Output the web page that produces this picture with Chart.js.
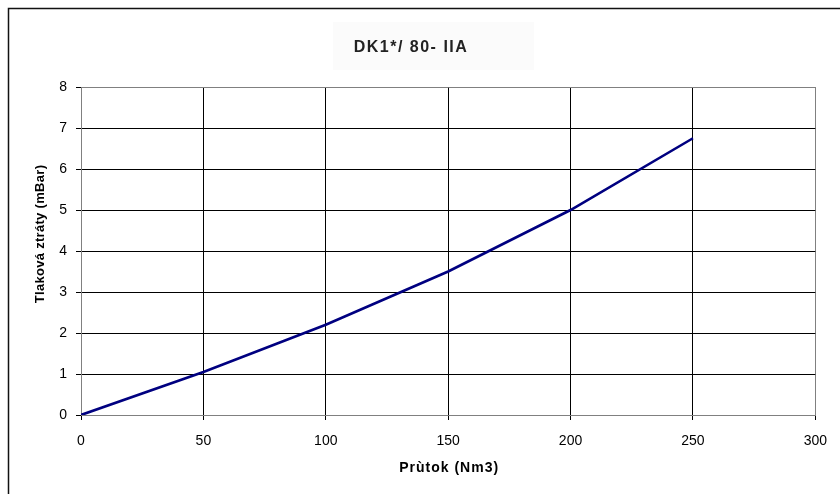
<!DOCTYPE html>
<html>
<head>
<meta charset="utf-8">
<script src="https://cdn.jsdelivr.net/npm/chart.js@4/dist/chart.umd.min.js"></script>
<style>
  html, body { margin: 0; padding: 0; background: #fff; overflow: hidden; }
  #wrap { width: 840px; height: 494px; position: relative; }
</style>
</head>
<body>
<div id="wrap"><canvas id="chartDk" width="840" height="494"></canvas></div>
<script>
// --- data ---
const flowValues = [0, 50, 100, 150, 200, 250];          // Průtok (Nm3)
const lossValues = [0, 1.05, 2.2, 3.5, 5.0, 6.75];       // Tlaková ztráty (mBar)
const xTicks = [0, 50, 100, 150, 200, 250, 300];
const yTicks = [0, 1, 2, 3, 4, 5, 6, 7, 8];

const chartTitle = 'DK1*/ 80- IIA';
const xTitle = 'Prùtok (Nm3)';
const yTitle = 'Tlaková ztráty (mBar)';

const FONT = '"Liberation Sans", Arial, sans-serif';

// frame, chart title and axis titles drawn on canvas (Excel style)
const excelFrame = {
    id: 'excelFrame',
    beforeDraw(chart) {
        const c = chart.ctx;
        c.save();
        c.fillStyle = '#fbfbfb';
        c.fillRect(333, 22, 201, 48);
        c.restore();
    },
    afterDraw(chart) {
        const c = chart.ctx;
        const area = chart.chartArea;
        c.save();
        c.strokeStyle = '#111';
        c.lineWidth = 1.5;
        c.beginPath();
        c.moveTo(8.5, 494);
        c.lineTo(8.5, 8.5);
        c.lineTo(840, 8.5);
        c.stroke();

        c.fillStyle = '#222';
        c.textAlign = 'center';
        c.textBaseline = 'middle';
        c.letterSpacing = '1.5px';
        c.font = 'bold 16px ' + FONT;
        c.fillText(chartTitle, 411, 48);

        c.fillStyle = '#000';
        c.font = 'bold 14px ' + FONT;
        c.letterSpacing = '1px';
        c.fillText(xTitle, (area.left + area.right) / 2 + 1, 468);

        c.translate(40, 234);
        c.rotate(-Math.PI / 2);
        c.font = 'bold 13px ' + FONT;
        c.letterSpacing = '0.3px';
        c.fillText(yTitle, 0, 0);
        c.restore();
    }
};

const points = flowValues.map((x, i) => ({ x: x, y: lossValues[i] }));

new Chart(document.getElementById('chartDk'), {
    type: 'line',
    data: {
        datasets: [{
            data: points,
            borderColor: '#000080',
            borderWidth: 2.6,
            pointRadius: 0,
            tension: 0,
            fill: false
        }]
    },
    options: {
        responsive: false,
        animation: false,
        devicePixelRatio: 1,
        layout: { padding: { top: 87, right: 21, left: 0, bottom: 0 } },
        plugins: { legend: { display: false }, tooltip: { enabled: false } },
        scales: {
            x: {
                type: 'linear',
                min: 0, max: 300,
                afterBuildTicks: s => { s.ticks = xTicks.map(v => ({ value: v })); },
                afterFit: s => { s.height = 494 - 415; },
                grid: {
                    color: ctx => (ctx.tick && ctx.tick.value === 300) ? '#808080' : '#000',
                    tickColor: '#000',
                    tickLength: 5,
                    lineWidth: 1
                },
                border: { color: '#808080', width: 1 },
                ticks: { color: '#000', font: { family: FONT, size: 14 }, padding: 13, maxRotation: 0 }
            },
            y: {
                type: 'linear',
                min: 0, max: 8,
                afterBuildTicks: s => { s.ticks = yTicks.map(v => ({ value: v })); },
                afterFit: s => { s.width = 81; },
                grid: {
                    color: ctx => (ctx.tick && ctx.tick.value === 8) ? '#808080' : '#000',
                    tickColor: '#000',
                    tickLength: 5,
                    lineWidth: 1
                },
                border: { color: '#808080', width: 1 },
                ticks: { color: '#000', font: { family: FONT, size: 14 }, padding: 9 }
            }
        }
    },
    plugins: [excelFrame]
});
</script>
</body>
</html>
